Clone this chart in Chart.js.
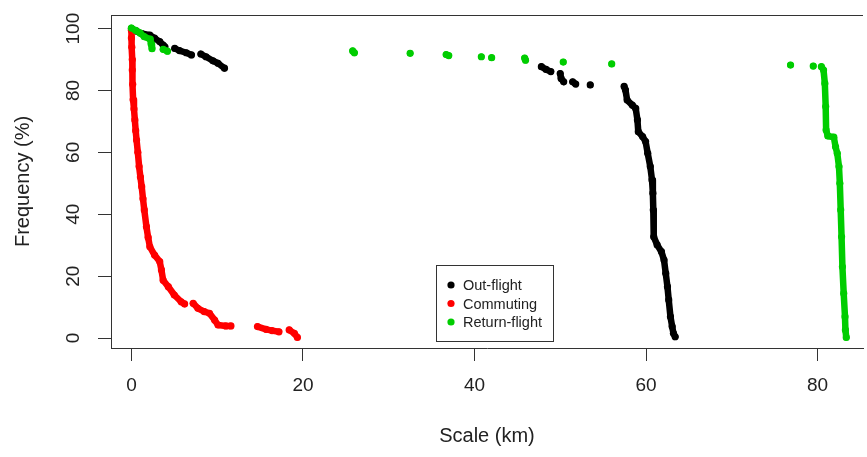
<!DOCTYPE html>
<html lang="en">
<head>
    <meta charset="UTF-8">
    <title>Frequency vs Scale</title>
    <style>
        * { margin: 0; padding: 0; box-sizing: border-box; }
        body { background: #fff; }
        .chart-box { width: 867px; height: 457px; position: relative; }
    </style>
    <script src="https://cdn.jsdelivr.net/npm/chart.js"></script>
</head>
<body>
    <div class="chart-box">
        <canvas id="freqChart"></canvas>
    </div>

    <script>
        // Values, [scale km, frequency %]; null = gap in the trace
        const outFlight = [
            [0, 100], [0.6, 99.2], [1.2, 98.4], [2.15, 97.9], [2.7, 96.9], [3.3, 95.8], [3.7, 94.7], [3.9, 94.1],
            null,
            [5.05, 93.6], [5.6, 92.9], [6.4, 92.2], [7.0, 91.5],
            null,
            [8.1, 91.8], [8.7, 90.9], [9.5, 89.6], [10.1, 88.8], [10.85, 87.2],
            null,
            [47.8, 87.7], [48.35, 86.8], [48.9, 86.1],
            null,
            [50.0, 85.5], [50.1, 83.9], [50.4, 82.8],
            null,
            [51.45, 82.8], [51.8, 82.1],
            null,
            [53.5, 81.8],
            null,
            [57.45, 81.3], [57.6, 80.2], [57.8, 76.9], [58.4, 75.3], [58.8, 74.2], [59.0, 70.5], [59.1, 66.7],
            [59.6, 65.1], [59.95, 63.5], [60.2, 59.7], [60.5, 55.4], [60.7, 51.1], [60.8, 46.8], [60.85, 41.4],
            [60.9, 32.7], [61.3, 30.1], [61.8, 27.9], [62.1, 25.2], [62.3, 20.9], [62.5, 16.6], [62.65, 12.3],
            [62.85, 6.9], [63.05, 3.7], [63.2, 1.5], [63.4, 0.4]
        ];
        const commuting = [
            [0, 99.5], [0, 97], [0.05, 94], [0.1, 90], [0.1, 86.6], [0.15, 82], [0.2, 77], [0.3, 74], [0.4, 70.5],
            [0.5, 67], [0.6, 64], [0.75, 60], [0.9, 55.4], [1.05, 52], [1.2, 48.9], [1.35, 45], [1.5, 41.4],
            [1.75, 36], [1.95, 32.5], [2.15, 29.5], [2.7, 26.8], [3.3, 24.7], [3.5, 22], [3.7, 18.7], [4.3, 16.6],
            [5.0, 13.9], [5.8, 11.7], [6.2, 11],
            null,
            [7.2, 11.2], [7.75, 9.6], [8.5, 8.5], [9.1, 8.0], [9.7, 5.8], [10.1, 4.2], [11.0, 3.9], [11.6, 3.9],
            null,
            [14.7, 3.7], [15.7, 2.8], [16.4, 2.4], [17.2, 2.0],
            null,
            [18.4, 2.6], [19.0, 1.5], [19.35, 0.2]
        ];
        const returnFlight = [
            [0, 100.2], [0.5, 99.4], [1.0, 98.6], [1.5, 97.4], [2.2, 96.6], [2.3, 95], [2.4, 93.5],
            null,
            [3.7, 93.3], [4.2, 92.7],
            null, [25.8, 92.8], [26.0, 92.2],
            null, [32.5, 92.0],
            null, [36.7, 91.6], [37.0, 91.3],
            null, [40.8, 90.9],
            null, [42.0, 90.6],
            null, [45.85, 90.5], [45.95, 89.8],
            null, [50.35, 89.2],
            null, [56.0, 88.6],
            null, [76.85, 88.2],
            null, [79.5, 87.9],
            null,
            [80.45, 87.7], [80.7, 86.6], [80.85, 82.3], [80.95, 74.8], [81.0, 67.2], [81.2, 65.3], [81.9, 64.9],
            [82.1, 61.8], [82.3, 59.7], [82.5, 55.4], [82.6, 50], [82.7, 41.4], [82.8, 32.7], [82.9, 23],
            [83.05, 14.4], [83.2, 6.9], [83.25, 2.6], [83.35, 0.2]
        ];

        const seriesNames = ['Out-flight', 'Commuting', 'Return-flight'];
        const seriesColors = ['#000000', '#ff0000', '#00cd00'];
        const xTicks = [0, 20, 40, 60, 80];
        const yTicks = [0, 20, 40, 60, 80, 100];

        const FONT = "'Liberation Sans', Arial, sans-serif";
        const TEXT = '#222';
        const AXIS = '#333';

        // turn [x, y] pairs into points, nulls break the line
        function toPoints(pairs) {
            return pairs.map(p => p ? { x: p[0], y: p[1] } : { x: null, y: null });
        }

        function makeSet(i, pairs, order) {
            return {
                label: seriesNames[i],
                data: toPoints(pairs),
                showLine: true,
                spanGaps: false,
                borderColor: seriesColors[i],
                backgroundColor: seriesColors[i],
                borderWidth: 6.5,
                borderCapStyle: 'round',
                borderJoinStyle: 'round',
                pointRadius: 3.6,
                pointBorderWidth: 0,
                pointBackgroundColor: seriesColors[i],
                order: order
            };
        }

        // R style box (top edge), rotated y tick labels and the legend box
        const extras = {
            id: 'extras',
            afterDraw(chart) {
                const ctx = chart.ctx;
                const area = chart.chartArea;
                const yScale = chart.scales.y;
                ctx.save();
                ctx.strokeStyle = AXIS;
                ctx.lineWidth = 1;
                ctx.beginPath();
                ctx.moveTo(area.left, area.top + 0.5);
                ctx.lineTo(area.right, area.top + 0.5);
                ctx.stroke();

                ctx.fillStyle = TEXT;
                ctx.font = '19px ' + FONT;
                ctx.textAlign = 'center';
                ctx.textBaseline = 'middle';
                yTicks.forEach(v => {
                    ctx.save();
                    ctx.translate(74, yScale.getPixelForValue(v));
                    ctx.rotate(-Math.PI / 2);
                    ctx.fillText(String(v), 0, 0);
                    ctx.restore();
                });

                // legend
                const lx = 436.5, ly = 265.5, lw = 117, lh = 76;
                ctx.fillStyle = '#fff';
                ctx.fillRect(lx, ly, lw, lh);
                ctx.strokeStyle = AXIS;
                ctx.strokeRect(lx, ly, lw, lh);
                ctx.font = '14.5px ' + FONT;
                ctx.textAlign = 'left';
                seriesNames.forEach((name, i) => {
                    const yy = 285 + i * 18.5;
                    ctx.fillStyle = seriesColors[i];
                    ctx.beginPath();
                    ctx.arc(451, yy, 3.6, 0, Math.PI * 2);
                    ctx.fill();
                    ctx.fillStyle = TEXT;
                    ctx.fillText(name, 463, yy + 1);
                });
                ctx.restore();
            }
        };

        const ctx = document.getElementById('freqChart').getContext('2d');
        new Chart(ctx, {
            type: 'scatter',
            data: {
                datasets: [
                    makeSet(0, outFlight, 3),
                    makeSet(1, commuting, 2),
                    makeSet(2, returnFlight, 1)
                ]
            },
            options: {
                responsive: true,
                maintainAspectRatio: false,
                animation: false,
                events: [],
                layout: { padding: { top: 15, right: 0, left: 0, bottom: 0 } },
                plugins: {
                    legend: { display: false },
                    tooltip: { enabled: false }
                },
                scales: {
                    x: {
                        type: 'linear',
                        min: -2.38,
                        max: 85.3,
                        afterBuildTicks: s => { s.ticks = xTicks.map(v => ({ value: v })); },
                        afterFit: s => { s.height = 109; },
                        grid: { drawOnChartArea: false, drawTicks: true, tickLength: 13, tickColor: AXIS },
                        border: { display: true, color: AXIS, width: 1 },
                        ticks: {
                            color: TEXT,
                            font: { family: FONT, size: 19 },
                            padding: 13,
                            maxRotation: 0,
                            callback: v => String(v)
                        },
                        title: {
                            display: true,
                            text: 'Scale (km)',
                            color: TEXT,
                            font: { family: FONT, size: 20 },
                            padding: { top: 0, bottom: 9 }
                        }
                    },
                    y: {
                        type: 'linear',
                        min: -3.23,
                        max: 104.4,
                        afterBuildTicks: s => { s.ticks = yTicks.map(v => ({ value: v })); },
                        afterFit: s => { s.width = 111; },
                        grid: { drawOnChartArea: false, drawTicks: true, tickLength: 13, tickColor: AXIS },
                        border: { display: true, color: AXIS, width: 1 },
                        ticks: { display: false },
                        title: {
                            display: true,
                            text: 'Frequency (%)',
                            color: TEXT,
                            font: { family: FONT, size: 20 },
                            padding: { top: 11, bottom: 0 }
                        }
                    }
                }
            },
            plugins: [extras]
        });
    </script>
</body>
</html>
